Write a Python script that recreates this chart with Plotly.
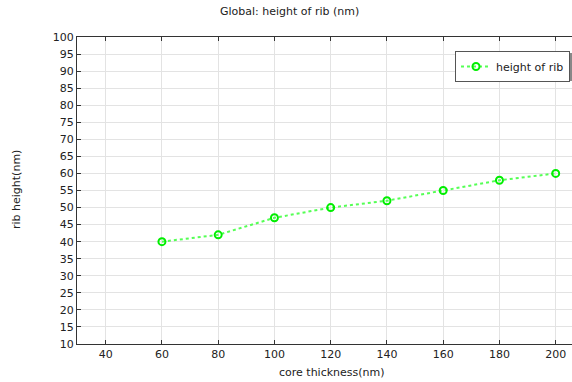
import plotly.graph_objects as go

core_thickness = [60, 80, 100, 120, 140, 160, 180, 200]
rib_height = [40, 42, 47, 50, 52, 55, 58, 60]
series_name = "height of rib"
title_text = "Global: height of rib (nm)"
x_title = "core thickness(nm)"
y_title = "rib height(nm)"
x_ticks = [40, 60, 80, 100, 120, 140, 160, 180, 200]
y_ticks = list(range(10, 101, 5))

W, H = 572, 382
L, R, T, B = 77, 0, 37, 38
pw, ph = W - L - R, H - T - B

def px(x):
    return (x - L) / pw

def py(y):
    return (H - B - y) / ph

font = dict(family="DejaVu Sans", size=11, color="#222222")

fig = go.Figure()
fig.add_trace(go.Scatter(
    x=core_thickness, y=rib_height, name=series_name, mode="lines+markers",
    line=dict(color="#55ff55", width=2, dash="dot"),
    marker=dict(symbol="circle-open", size=7, color="#00ee00", line=dict(width=2, color="#00ee00")),
))

axis_common = dict(
    showgrid=True, gridcolor="#e3e3e3", gridwidth=1,
    showline=True, linecolor="#333333", linewidth=1,
    ticks="inside", ticklen=4, tickcolor="#333333",
    tickfont=font, zeroline=False,
)
fig.update_xaxes(range=[29.8, 205.8], tickvals=x_ticks, mirror="ticks", **axis_common)
fig.update_yaxes(range=[10, 100], tickvals=y_ticks, **axis_common)

fig.update_layout(
    width=W, height=H,
    margin=dict(l=L, r=R, t=T, b=B),
    paper_bgcolor="white", plot_bgcolor="white",
    font=font,
    showlegend=True,
    legend=dict(
        x=px(570), y=py(51), xanchor="right", yanchor="top",
        bgcolor="white", bordercolor="#555555", borderwidth=1,
        font=dict(family="DejaVu Sans", size=11, color="#222222"),
    ),
    shapes=[dict(
        type="rect", xref="paper", yref="paper", layer="above",
        x0=px(460), x1=px(572), y0=py(81), y1=py(53),
        fillcolor="#888888", line=dict(width=0),
    )],
    annotations=[
        dict(text=title_text, xref="paper", yref="paper", x=px(289), y=py(12),
             showarrow=False, xanchor="center", yanchor="middle",
             font=dict(family="DejaVu Sans", size=11, color="#222222")),
        dict(text=x_title, xref="paper", yref="paper", x=px(332), y=py(372),
             showarrow=False, xanchor="center", yanchor="middle",
             font=dict(family="DejaVu Sans", size=11, color="#222222")),
        dict(text=y_title, xref="paper", yref="paper", x=px(16), y=py(190),
             showarrow=False, xanchor="center", yanchor="middle", textangle=-90,
             font=dict(family="DejaVu Sans", size=11, color="#222222")),
    ],
)

fig.write_html("out.html")
